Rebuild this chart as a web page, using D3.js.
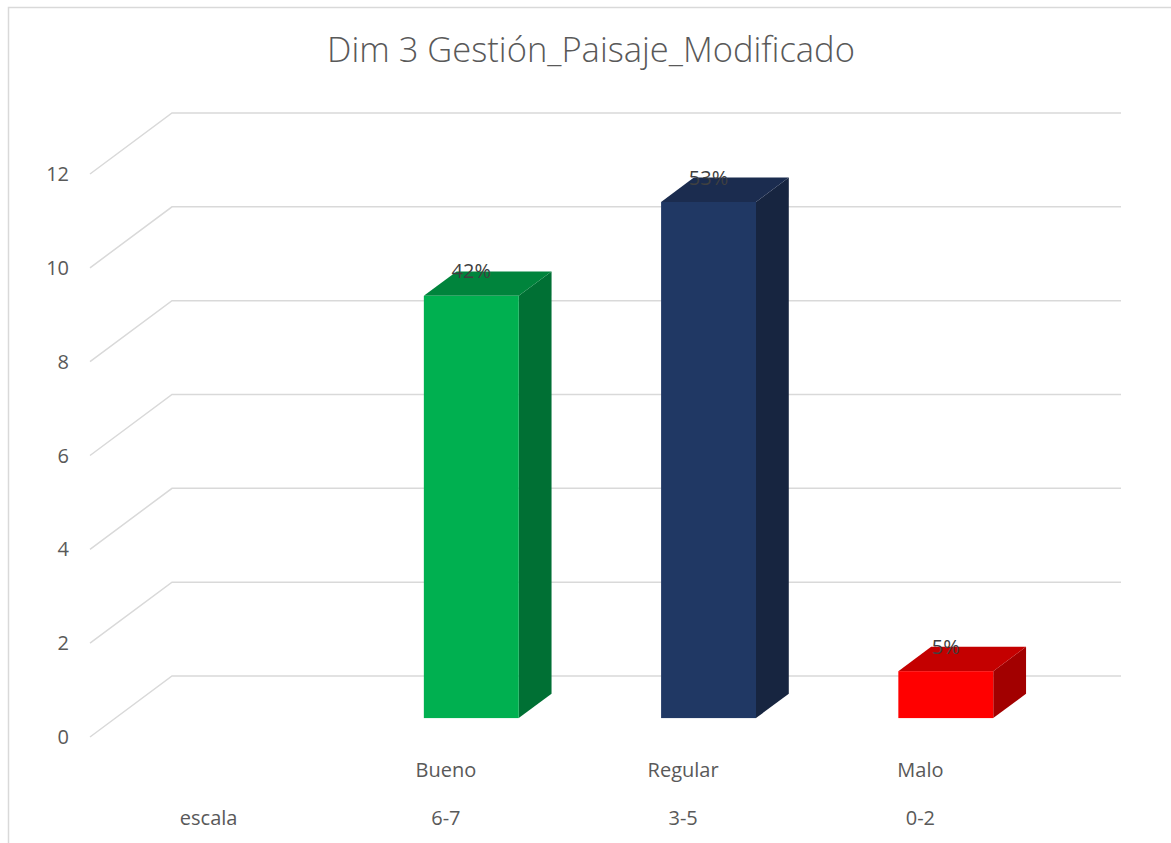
<!DOCTYPE html>
<html>
<head>
<meta charset="utf-8">
<script src="https://cdn.jsdelivr.net/npm/d3@7"></script>
<style>
  body { margin: 0; background: #fff; }
  svg { display: block; font-family: "Open Sans", sans-serif; }
</style>
</head>
<body>
<svg id="chart"></svg>
<script>
const categories = ["", "Bueno", "Regular", "Malo"];
const scaleLabels = ["escala", "6-7", "3-5", "0-2"];
const values = [null, 9, 11, 1];
const percentLabels = ["", "42%", "53%", "5%"];
const yTicks = [0, 2, 4, 6, 8, 10, 12];
const frontColors = ["", "#00B050", "#203864", "#FF0000"];
const topColors = ["", "#00843C", "#1B2C4F", "#C40000"];
const sideColors = ["", "#007034", "#172540", "#A20000"];

const width = 1171;
const height = 843;
const svg = d3.select("#chart").attr("width", width).attr("height", height);

// chart area border
svg.append("rect")
  .attr("x", 8.5).attr("y", 7.5)
  .attr("width", 1200).attr("height", 900)
  .attr("fill", "none")
  .attr("stroke", "#D9D9D9")
  .attr("stroke-width", 1.5);

svg.append("text")
  .attr("x", 591).attr("y", 62)
  .attr("text-anchor", "middle")
  .style("font-size", "34.5px")
  .style("font-weight", 300)
  .style("fill", "#595959")
  .text("Dim 3 Gestión_Paisaje_Modificado");

// 3D projection: depth 0 = front of floor, 1 = back wall
const depthX = 82;
const depthY = -61;

const x = d3.scaleBand().domain(d3.range(categories.length)).range([90, 1039]);
const y = d3.scaleLinear().domain([0, 12]).range([737, 174]);

const px = (sx, d) => sx + d * depthX;
const py = (sy, d) => sy + d * depthY;

// gridlines on side + back wall
const grid = svg.append("g");
yTicks.forEach((t) => {
  grid.append("path")
    .attr("d", `M${x.range()[0]},${y(t)} L${px(x.range()[0], 1)},${py(y(t), 1)} L${px(x.range()[1], 1)},${py(y(t), 1)}`)
    .attr("fill", "none")
    .attr("stroke", "#D9D9D9")
    .attr("stroke-width", 1.5);
});

// y tick labels
svg.append("g").selectAll("text")
  .data(yTicks)
  .enter()
  .append("text")
  .attr("x", 69)
  .attr("y", (d) => y(d))
  .attr("text-anchor", "end")
  .attr("dy", "0.35em")
  .style("font-size", "20px")
  .style("fill", "#595959")
  .text((d) => d);

// bars
const barW = x.bandwidth() * 0.4;
const d0 = 0.31;
const d1 = 0.71;
const bars = svg.append("g");
values.forEach((v, i) => {
  if (v == null) return;
  const xl = x(i) + (x.bandwidth() - barW) / 2;
  const xr = xl + barW;
  const yb = y(0);
  const yt = y(v);
  const pts = (arr) => arr.map((p) => p.join(",")).join(" ");
  // side face
  bars.append("polygon")
    .attr("points", pts([
      [px(xr, d0), py(yt, d0)], [px(xr, d1), py(yt, d1)],
      [px(xr, d1), py(yb, d1)], [px(xr, d0), py(yb, d0)]
    ]))
    .attr("fill", sideColors[i]);
  // top face
  bars.append("polygon")
    .attr("points", pts([
      [px(xl, d0), py(yt, d0)], [px(xl, d1), py(yt, d1)],
      [px(xr, d1), py(yt, d1)], [px(xr, d0), py(yt, d0)]
    ]))
    .attr("fill", topColors[i]);
  // front face
  bars.append("rect")
    .attr("x", px(xl, d0))
    .attr("y", py(yt, d0))
    .attr("width", barW)
    .attr("height", yb - yt)
    .attr("fill", frontColors[i]);
  // data label
  bars.append("text")
    .attr("x", px(xl + barW / 2, d0))
    .attr("y", py(yt, d1))
    .attr("dy", "0.35em")
    .attr("text-anchor", "middle")
    .style("font-size", "20px")
    .style("fill", "#404040")
    .text(percentLabels[i]);
});

// category labels (two levels)
const catG = svg.append("g");
catG.selectAll(".cat")
  .data(categories)
  .enter()
  .append("text")
  .attr("x", (d, i) => x(i) + x.bandwidth() / 2)
  .attr("y", 777)
  .attr("text-anchor", "middle")
  .style("font-size", "20px")
  .style("fill", "#595959")
  .text((d) => d);

catG.selectAll(".scale")
  .data(scaleLabels)
  .enter()
  .append("text")
  .attr("x", (d, i) => x(i) + x.bandwidth() / 2)
  .attr("y", 825)
  .attr("text-anchor", "middle")
  .style("font-size", "20px")
  .style("fill", "#595959")
  .text((d) => d);
</script>
</body>
</html>
